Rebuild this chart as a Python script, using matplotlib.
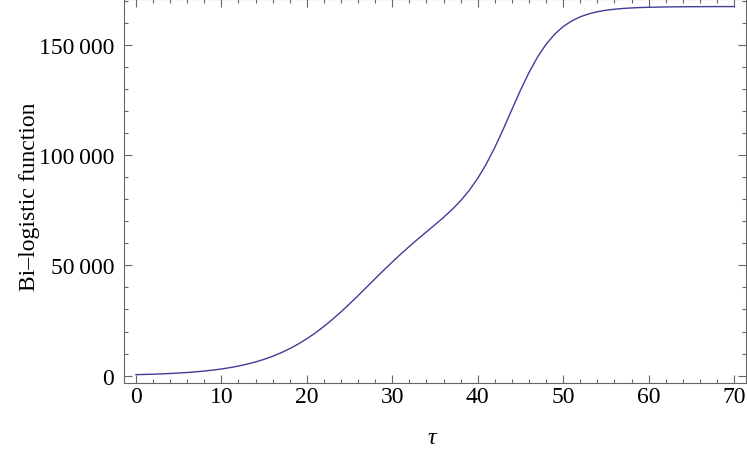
import matplotlib
matplotlib.use('Agg')
import matplotlib.pyplot as plt
from matplotlib.ticker import MultipleLocator, FuncFormatter

# Data
tau = list(range(0, 61)) + [62, 64, 66, 68, 70]
bilogistic = [470, 570, 690, 830, 1000, 1210, 1450, 1750, 2110, 2530,
              3040, 3650, 4370, 5230, 6240, 7420, 8810, 10410, 12260, 14360,
              16740, 19400, 22330, 25520, 28940, 32550, 36300, 40140, 43990, 47800,
              51530, 55130, 58590, 61930, 65180, 68410, 71730, 75300, 79300, 83940,
              89430, 95920, 103440, 111800, 120610, 129310, 137380, 144390, 150180, 154740,
              158200, 160760, 162630, 163970, 164920, 165600, 166070, 166410, 166650, 166830,
              166950, 167100, 167190, 167230, 167260, 167270]

x_major = [0, 10, 20, 30, 40, 50, 60, 70]
y_major = [0, 50000, 100000, 150000]

plt.rcParams['font.family'] = ['Liberation Serif', 'DejaVu Serif']
fig = plt.figure(figsize=(7.47, 4.52), dpi=100)
ax = fig.add_axes([124/747, 68/452, 622/747, 384/452])
ax.plot(tau, bilogistic, color='#3F3D99', lw=1.0)
ax.set_xlim(-1.4, 71.4)
ax.set_ylim(-3310, 170700)
ax.set_xticks(x_major)
ax.set_yticks(y_major)
ax.xaxis.set_minor_locator(MultipleLocator(2))
ax.yaxis.set_minor_locator(MultipleLocator(10000))
ax.yaxis.set_major_formatter(FuncFormatter(lambda v, _: f"{int(round(v)):,}".replace(',', '\u2009')))
ax.tick_params(which='both', direction='in', top=True, right=True, color='#666666', width=0.8, labelsize=17)
ax.tick_params(which='major', length=5.5)
ax.tick_params(which='minor', length=3)
ax.tick_params(axis='x', pad=2)
ax.tick_params(axis='y', pad=7)
for s in ax.spines.values():
    s.set_color('#666666')
    s.set_linewidth(0.8)
ax.set_xlabel('τ', fontsize=17, style='italic')
ax.set_ylabel('Bi–logistic function', fontsize=17)
ax.xaxis.set_label_coords(0.495, -0.115)
ax.yaxis.set_label_coords(-0.135, 0.488)
fig.savefig('out.png', dpi=100)
